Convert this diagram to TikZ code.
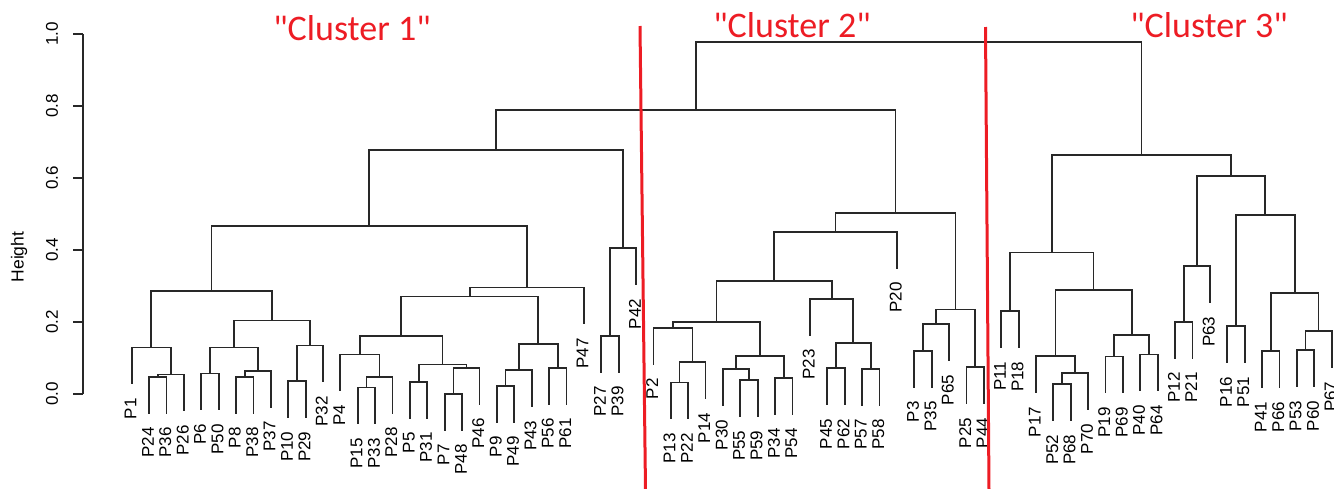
\documentclass[tikz,border=0pt]{standalone}
\usepackage{fontspec}
\setmainfont{Liberation Sans}
\newfontfamily\ttlfont{Carlito}
\usetikzlibrary{calc}
\definecolor{clred}{RGB}{237,28,36}
\definecolor{dendc}{RGB}{40,40,40}
\newcommand\lf[3]{%
  \coordinate (#1) at ({131.7+(#2-1)*17.39},{394-360*(#3-0.1)});
  \node[lab] (#1-t) at ($(#1)+(-1.2,14.5)$) {#1};
  \draw[dend] (#1) -- ++(0,-3);}
\newcommand\mg[4]{%
  \path ($(#2)!0.5!(#3)$) coordinate (#1-m);
  \coordinate (#1) at (#1-m |- 0,{394-360*#4});
  \draw[dend] (#2) |- (#1) -| (#3);}
\begin{document}
\begin{tikzpicture}[x=1pt,y=-1pt,
  dend/.style={draw=dendc,line width=1.8pt,line cap=rect},
  lab/.style={rotate=90,anchor=east,inner sep=0pt,font=\fontsize{17}{17}\selectfont},
  ticklab/.style={rotate=90,anchor=center,inner sep=0pt,font=\fontsize{17}{17}\selectfont},
  axis/.style={draw=dendc,line width=1.8pt},
  redline/.style={draw=clred,line width=3pt},
  ttl/.style={anchor=base,inner sep=0pt,text=clred,font=\ttlfont\fontsize{36}{36}\selectfont}]
\useasboundingbox (0,0) rectangle (1334,488);
\clip (0,0) rectangle (1334,488);
% axis
\coordinate (ax0) at (83,394);
\coordinate (ax1) at (83,34);
\draw[axis] (ax0) -- (ax1);
\foreach \i/\h/\t in {0/0/0.0,1/0.2/0.2,2/0.4/0.4,3/0.6/0.6,4/0.8/0.8,5/1/1.0}{
  \coordinate (tk\i) at (83,{394-360*\h});
  \draw[axis] (tk\i) -- ++(-10.5,0);
  \node[ticklab] (tl\i) at (52,{394-360*\h}) {\t};
}
\node[rotate=90,inner sep=0pt,font=\fontsize{17.5}{17.5}\selectfont] (ylab) at (19,257) {Height};
% leaves
\lf{P1}{1}{0.129}
\lf{P24}{2}{0.048}
\lf{P36}{3}{0.048}
\lf{P26}{4}{0.054}
\lf{P6}{5}{0.057}
\lf{P50}{6}{0.057}
\lf{P8}{7}{0.048}
\lf{P38}{8}{0.048}
\lf{P37}{9}{0.065}
\lf{P10}{10}{0.036}
\lf{P29}{11}{0.036}
\lf{P32}{12}{0.135}
\lf{P4}{13}{0.110}
\lf{P15}{14}{0.018}
\lf{P33}{15}{0.018}
\lf{P28}{16}{0.048}
\lf{P5}{17}{0.034}
\lf{P31}{18}{0.034}
\lf{P7}{19}{0.001}
\lf{P48}{20}{0.001}
\lf{P46}{21}{0.073}
\lf{P9}{22}{0.023}
\lf{P49}{23}{0.023}
\lf{P43}{24}{0.067}
\lf{P56}{25}{0.073}
\lf{P61}{26}{0.073}
\lf{P47}{27}{0.296}
\lf{P27}{28}{0.162}
\lf{P39}{29}{0.162}
\lf{P42}{30}{0.405}
\lf{P2}{31}{0.184}
\lf{P13}{32}{0.032}
\lf{P22}{33}{0.032}
\lf{P14}{34}{0.088}
\lf{P30}{35}{0.069}
\lf{P55}{36}{0.039}
\lf{P59}{37}{0.039}
\lf{P34}{38}{0.045}
\lf{P54}{39}{0.045}
\lf{P23}{40}{0.265}
\lf{P45}{41}{0.072}
\lf{P62}{42}{0.072}
\lf{P57}{43}{0.070}
\lf{P58}{44}{0.070}
\lf{P20}{45}{0.451}
\lf{P3}{46}{0.120}
\lf{P35}{47}{0.120}
\lf{P65}{48}{0.194}
\lf{P25}{49}{0.074}
\lf{P44}{50}{0.074}
\lf{P11}{51}{0.231}
\lf{P18}{52}{0.231}
\lf{P17}{53}{0.105}
\lf{P52}{54}{0.028}
\lf{P68}{55}{0.028}
\lf{P70}{56}{0.058}
\lf{P19}{57}{0.104}
\lf{P69}{58}{0.104}
\lf{P40}{59}{0.110}
\lf{P64}{60}{0.110}
\lf{P12}{61}{0.201}
\lf{P21}{62}{0.201}
\lf{P63}{63}{0.356}
\lf{P16}{64}{0.188}
\lf{P51}{65}{0.188}
\lf{P41}{66}{0.119}
\lf{P66}{67}{0.119}
\lf{P53}{68}{0.122}
\lf{P60}{69}{0.122}
\lf{P67}{70}{0.175}
% cluster 1
\mg{a1}{P24}{P36}{0.048}
\mg{a2}{a1}{P26}{0.054}
\mg{a3}{P1}{a2}{0.129}
\mg{a4}{P6}{P50}{0.057}
\mg{a5}{P8}{P38}{0.048}
\mg{a6}{a5}{P37}{0.065}
\mg{a7}{a4}{a6}{0.129}
\mg{a8}{P10}{P29}{0.036}
\mg{a9}{a8}{P32}{0.135}
\mg{a10}{a7}{a9}{0.204}
\mg{a11}{a3}{a10}{0.287}
\mg{b1}{P15}{P33}{0.018}
\mg{b2}{b1}{P28}{0.048}
\mg{b3}{P4}{b2}{0.110}
\mg{b4}{P5}{P31}{0.034}
\mg{b5}{P7}{P48}{0.001}
\mg{b6}{b5}{P46}{0.073}
\mg{b7}{b4}{b6}{0.082}
\mg{b8}{b3}{b7}{0.162}
\mg{b9}{P9}{P49}{0.023}
\mg{b10}{b9}{P43}{0.067}
\mg{b11}{P56}{P61}{0.073}
\mg{b12}{b10}{b11}{0.140}
\mg{b13}{b8}{b12}{0.271}
\mg{b14}{b13}{P47}{0.296}
\mg{c0}{a11}{b14}{0.467}
\mg{c1}{P27}{P39}{0.162}
\mg{c2}{c1}{P42}{0.405}
\mg{c3}{c0}{c2}{0.678}
% cluster 2
\mg{d1}{P13}{P22}{0.032}
\mg{d2}{d1}{P14}{0.088}
\mg{d3}{P2}{d2}{0.184}
\mg{d4}{P55}{P59}{0.039}
\mg{d5}{P30}{d4}{0.069}
\mg{d6}{P34}{P54}{0.045}
\mg{d7}{d5}{d6}{0.105}
\mg{d8}{d3}{d7}{0.200}
\mg{d9}{P45}{P62}{0.072}
\mg{d10}{P57}{P58}{0.070}
\mg{d11}{d9}{d10}{0.141}
\mg{d12}{P23}{d11}{0.265}
\mg{d13}{d8}{d12}{0.315}
\mg{d14}{d13}{P20}{0.451}
\mg{e1}{P3}{P35}{0.120}
\mg{e2}{e1}{P65}{0.194}
\mg{e3}{P25}{P44}{0.074}
\mg{e4}{e2}{e3}{0.235}
\mg{e5}{d14}{e4}{0.502}
\mg{f1}{c3}{e5}{0.789}
% cluster 3
\mg{g1}{P11}{P18}{0.231}
\mg{g2}{P52}{P68}{0.028}
\mg{g3}{g2}{P70}{0.058}
\mg{g4}{P17}{g3}{0.105}
\mg{g5}{P19}{P69}{0.104}
\mg{g6}{P40}{P64}{0.110}
\mg{g7}{g5}{g6}{0.163}
\mg{g8}{g4}{g7}{0.290}
\mg{g9}{g1}{g8}{0.393}
\mg{h1}{P12}{P21}{0.201}
\mg{h2}{h1}{P63}{0.356}
\mg{h3}{P16}{P51}{0.188}
\mg{h4}{P41}{P66}{0.119}
\mg{h5}{P53}{P60}{0.122}
\mg{h6}{h5}{P67}{0.175}
\mg{h7}{h4}{h6}{0.281}
\mg{h8}{h3}{h7}{0.498}
\mg{h9}{h2}{h8}{0.606}
\mg{h10}{g9}{h9}{0.663}
\mg{root}{f1}{h10}{0.978}
% red separators and titles
\coordinate (r1a) at (640,26);
\coordinate (r1b) at (645.5,490);
\coordinate (r2a) at (985.5,27);
\coordinate (r2b) at (989,490);
\draw[redline] (r1a) -- (r1b);
\draw[redline] (r2a) -- (r2b);
\node[ttl] (t1) at (352,40.7) {"Cluster 1"};
\node[ttl] (t2) at (792,37.3) {"Cluster 2"};
\node[ttl] (t3) at (1209,37) {"Cluster 3"};
\end{tikzpicture}
\end{document}
